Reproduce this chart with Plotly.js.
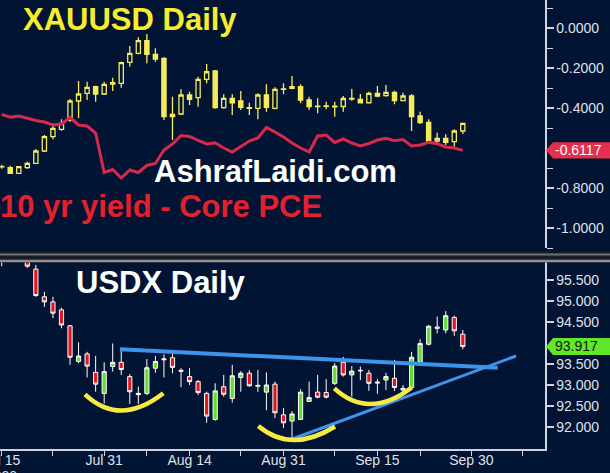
<!DOCTYPE html>
<html><head><meta charset="utf-8">
<script src="https://cdn.plot.ly/plotly-3.0.1.min.js"></script>
<style>html,body{margin:0;padding:0;background:#021434;overflow:hidden}</style>
</head><body><div id="chart" style="width:610px;height:473px"></div>
<script>
// ---------- data ----------
const dates = ['2020-07-15','2020-07-16','2020-07-17','2020-07-20','2020-07-21','2020-07-22','2020-07-23','2020-07-24','2020-07-27','2020-07-28','2020-07-29','2020-07-30','2020-07-31','2020-08-03','2020-08-04','2020-08-05','2020-08-06','2020-08-07','2020-08-10','2020-08-11','2020-08-12','2020-08-13','2020-08-14','2020-08-17','2020-08-18','2020-08-19','2020-08-20','2020-08-21','2020-08-24','2020-08-25','2020-08-26','2020-08-27','2020-08-28','2020-08-31','2020-09-01','2020-09-02','2020-09-03','2020-09-04','2020-09-07','2020-09-08','2020-09-09','2020-09-10','2020-09-11','2020-09-14','2020-09-15','2020-09-16','2020-09-17','2020-09-18','2020-09-21','2020-09-22','2020-09-23','2020-09-24','2020-09-25','2020-09-28','2020-09-29'];

const goldOpen  = [1812.0,1810.3,1799.2,1810.3,1819.0,1843.4,1871.8,1886.5,1904.9,1942.6,1957.9,1971.0,1956.5,1976.0,1977.7,2019.4,2037.3,2062.3,2035.3,2027.3,1911.5,1916.8,1954.5,1949.2,1985.7,2002.1,1929.3,1948.0,1942.6,1929.5,1928.1,1954.5,1928.1,1965.8,1971.0,1971.0,1944.6,1931.3,1932.7,1932.2,1931.7,1947.6,1946.0,1939.2,1957.9,1953.1,1959.9,1943.2,1952.5,1912.9,1900.4,1863.3,1868.6,1861.9,1883.1];
const goldHigh  = [1816.0,1814.3,1813.7,1822.2,1846.8,1875.2,1898.4,1906.3,1946.6,1982.3,1980.9,1973.0,1980.9,1988.8,2020.6,2051.7,2069.0,2075.5,2047.2,2029.3,1951.1,1965.8,1961.1,1990.8,2016.0,2004.1,1955.9,1955.9,1962.5,1939.2,1957.9,1975.7,1969.8,1977.7,1992.2,1975.7,1951.1,1948.0,1941.2,1941.2,1952.5,1966.4,1956.5,1961.1,1972.4,1974.4,1963.0,1959.1,1956.5,1921.4,1906.3,1879.7,1876.5,1886.5,1898.6];
const goldLow   = [1808.0,1797.8,1797.8,1807.7,1817.6,1841.4,1866.6,1883.7,1901.5,1908.9,1944.6,1941.2,1954.5,1962.5,1969.0,2010.7,2035.3,2017.4,2020.6,1904.9,1865.2,1914.8,1934.7,1931.3,1977.7,1927.3,1927.3,1914.8,1924.8,1914.8,1906.3,1921.4,1926.1,1955.9,1965.8,1938.1,1924.8,1918.2,1926.1,1911.5,1921.4,1943.2,1939.0,1938.0,1950.0,1951.1,1936.1,1942.0,1883.1,1897.0,1859.9,1857.3,1855.3,1852.0,1877.1];
const goldClose = [1812.5,1799.2,1812.3,1819.0,1843.4,1871.8,1888.5,1898.4,1942.6,1956.5,1969.8,1956.5,1975.7,1979.0,2018.6,2037.3,2062.3,2035.3,2025.9,1911.5,1915.8,1954.5,1946.0,1985.7,2000.7,1929.3,1948.0,1939.2,1930.1,1928.1,1954.5,1930.1,1965.8,1966.6,1967.8,1944.6,1931.3,1932.2,1931.8,1931.1,1947.6,1946.6,1939.2,1957.9,1952.5,1959.9,1943.2,1952.5,1911.5,1899.6,1863.3,1868.6,1860.7,1883.1,1898.4];

// 10 yr yield - Core PCE
const spreadVals = [-0.4325,-0.4465,-0.44,-0.4515,-0.4625,-0.47,-0.485,-0.48,-0.4475,-0.485,-0.49,-0.525,-0.7225,-0.7075,-0.75,-0.71,-0.7225,-0.6875,-0.6775,-0.61,-0.58,-0.5375,-0.5425,-0.5625,-0.58,-0.5735,-0.60,-0.62,-0.5925,-0.565,-0.55,-0.4975,-0.52,-0.545,-0.575,-0.60,-0.62,-0.54,-0.535,-0.5725,-0.555,-0.575,-0.59,-0.5775,-0.56,-0.5515,-0.5635,-0.5575,-0.59,-0.585,-0.5715,-0.5785,-0.595,-0.60,-0.6117];

const usdxOpen  = [96.10,96.00,96.30,96.05,95.76,95.10,94.98,94.79,94.41,93.56,93.74,93.30,92.80,93.44,93.54,93.20,92.77,92.80,93.40,93.60,93.65,93.35,93.20,93.08,92.80,92.18,92.96,92.68,93.18,93.28,92.97,92.83,93.02,92.29,92.14,92.18,92.61,92.83,92.82,93.04,93.54,93.24,93.35,93.28,93.07,93.12,93.16,92.88,92.94,93.54,93.97,94.38,94.31,94.61,94.21];
const usdxHigh  = [96.30,96.40,96.40,96.15,95.86,95.22,95.10,94.84,94.43,94.02,93.79,93.69,93.54,93.99,93.85,93.26,92.96,93.62,93.69,93.73,93.77,93.40,93.40,93.12,92.84,93.04,93.24,93.48,93.33,93.35,93.36,93.30,93.08,92.45,92.38,92.90,93.08,93.24,93.14,93.52,93.67,93.45,93.44,93.36,93.14,93.29,93.60,93.00,93.79,94.09,94.43,94.63,94.76,94.65,94.31];
const usdxLow   = [95.83,95.96,95.95,95.79,95.10,94.86,94.59,94.35,93.48,93.52,93.18,92.84,92.56,93.32,93.24,92.55,92.55,92.76,93.29,93.18,93.28,92.95,93.00,92.76,92.10,92.15,92.72,92.58,92.84,92.96,92.84,92.40,92.21,91.98,91.73,92.17,92.61,92.68,92.68,93.00,93.20,92.72,93.12,92.86,92.79,92.88,92.86,92.84,92.92,93.52,93.94,94.23,94.23,94.17,93.85];
const usdxClose = [96.00,96.30,96.00,95.83,95.13,94.98,94.71,94.43,93.66,93.69,93.45,93.02,93.32,93.54,93.37,92.84,92.80,93.41,93.56,93.62,93.42,93.33,93.08,92.82,92.26,92.86,92.78,93.22,93.28,92.98,92.99,93.00,92.34,92.10,92.31,92.83,92.70,92.71,92.71,93.45,93.24,93.33,93.34,93.04,93.05,93.20,92.94,92.92,93.66,93.99,94.40,94.35,94.65,94.29,93.917];

const tickDates  = ['2020-07-15','2020-07-23','2020-07-31','2020-08-07','2020-08-14','2020-08-24','2020-08-31','2020-09-08','2020-09-15','2020-09-22','2020-09-30','2020-10-08'];
const tickLabels = ['Jul 15','','Jul 31','','Aug 14','','Aug 31','','Sep 15','','Sep 30',''];
const spreadTicks = [0, -0.2, -0.4, -0.6, -0.8, -1.0];
const spreadTickShown = [true, true, true, false, true, true];
const spreadMinor = [0.1, -0.1, -0.3, -0.5, -0.7, -0.9, -1.1];
const usdxTicks = [92.0, 92.5, 93.0, 93.5, 94.0, 94.5, 95.0, 95.5];
const usdxTickShown = [true, true, true, true, false, true, true, true];

// ---------- styling ----------
const BG = '#021434';
const GOLD = '#f6ec5c';
const AX = '#cfd4dc';
const FONT = 'Liberation Sans, Arial, sans-serif';
const W = 545, H = 449;
const px = x => x / W;
const py = y => 1 - y / H;

const traces = [
  {type:'candlestick', x:dates, open:goldOpen, high:goldHigh, low:goldLow, close:goldClose,
   xaxis:'x', yaxis:'y', whiskerwidth:0, hoverinfo:'skip',
   increasing:{line:{color:GOLD, width:1.3}, fillcolor:BG},
   decreasing:{line:{color:GOLD, width:1.3}, fillcolor:GOLD}},
  {type:'scatter', mode:'lines', x:dates, y:spreadVals, xaxis:'x', yaxis:'y3',
   line:{color:'#d62a4d', width:3}, hoverinfo:'skip'},
  {type:'candlestick', x:dates, open:usdxOpen, high:usdxHigh, low:usdxLow, close:usdxClose,
   xaxis:'x', yaxis:'y2', whiskerwidth:0, hoverinfo:'skip',
   increasing:{line:{color:'#ffffff', width:1}, fillcolor:'#5fe02a'},
   decreasing:{line:{color:'#ffffff', width:1}, fillcolor:'#e2161d'}}
];

const lastSpread = spreadVals[spreadVals.length-1];
const lastUsdx = usdxClose[usdxClose.length-1];

function arc(p0, m, p2){
  const c = [(4*m[0]-p0[0]-p2[0])/2, (4*m[1]-p0[1]-p2[1])/2];
  return `M ${px(p0[0])},${py(p0[1])} Q ${px(c[0])},${py(c[1])} ${px(p2[0])},${py(p2[1])}`;
}
const YEL = '#f7ea43', BLUE = '#3f93ea';

const shapes = [
  // panel separator
  {type:'rect', xref:'paper', yref:'paper', x0:0, x1:px(610), y0:py(251.5), y1:py(262.5), fillcolor:'#181c24', line:{width:0}, layer:'above'},
  {type:'line', xref:'paper', yref:'paper', x0:0, x1:px(610), y0:py(254.5), y1:py(254.5), line:{color:'#6e7177', width:2}, layer:'above'},
  {type:'line', xref:'paper', yref:'paper', x0:0, x1:px(610), y0:py(261), y1:py(261), line:{color:'#8d9096', width:2.5}, layer:'above'},
  // last value tags
  {type:'path', xref:'paper', yref:'y3', fillcolor:'#e3304c', line:{width:0}, layer:'above',
   path:`M ${px(546)},${lastSpread} L ${px(553)},${lastSpread+0.041} L ${px(611)},${lastSpread+0.041} L ${px(611)},${lastSpread-0.041} L ${px(553)},${lastSpread-0.041} Z`},
  {type:'path', xref:'paper', yref:'y2', fillcolor:'#62e62a', line:{width:0}, layer:'above',
   path:`M ${px(546)},${lastUsdx} L ${px(553)},${lastUsdx+0.2} L ${px(611)},${lastUsdx+0.2} L ${px(611)},${lastUsdx-0.2} L ${px(553)},${lastUsdx-0.2} Z`},
  // trend lines
  {type:'line', xref:'paper', yref:'paper', x0:px(120), y0:py(349.3), x1:px(497.7), y1:py(367.7), line:{color:BLUE, width:4}, layer:'above'},
  {type:'line', xref:'paper', yref:'paper', x0:px(291), y0:py(439.5), x1:px(516), y1:py(356), line:{color:BLUE, width:3}, layer:'above'},
  // smile arcs
  {type:'path', xref:'paper', yref:'paper', path:arc([85,394.3],[122,410.5],[163.3,393.3]), line:{color:YEL, width:4.5}, layer:'above'},
  {type:'path', xref:'paper', yref:'paper', path:arc([258.3,426],[294,440],[335,426.5]), line:{color:YEL, width:4.5}, layer:'above'},
  {type:'path', xref:'paper', yref:'paper', path:arc([334.3,388.3],[371,404],[411.7,387.5]), line:{color:YEL, width:4.5}, layer:'above'}
];

const annotations = [
  {xref:'paper', yref:'paper', x:px(21), y:py(19), xanchor:'left', yanchor:'middle', showarrow:false,
   text:'<b>XAUUSD Daily</b>', font:{family:FONT, size:31, color:'#f7ec2e'}},
  {xref:'paper', yref:'paper', x:px(152), y:py(171), xanchor:'left', yanchor:'middle', showarrow:false,
   text:'<b>AshrafLaidi.com</b>', font:{family:FONT, size:31, color:'#ffffff'}},
  {xref:'paper', yref:'paper', x:px(-2), y:py(206), xanchor:'left', yanchor:'middle', showarrow:false,
   text:'<b>10 yr yield - Core PCE</b>', font:{family:FONT, size:31, color:'#e2202e'}},
  {xref:'paper', yref:'paper', x:px(74), y:py(282.5), xanchor:'left', yanchor:'middle', showarrow:false,
   text:'<b>USDX Daily</b>', font:{family:FONT, size:31, color:'#ffffff'}},
  {xref:'paper', yref:'y3', x:px(553), y:lastSpread, xanchor:'left', yanchor:'middle', showarrow:false,
   text:lastSpread.toFixed(4), font:{family:FONT, size:14, color:'#ffffff'}},
  {xref:'paper', yref:'y2', x:px(553), y:lastUsdx, xanchor:'left', yanchor:'middle', showarrow:false,
   text:lastUsdx.toFixed(3), font:{family:FONT, size:14, color:'#0b1a0b'}},
  {xref:'x', yref:'paper', x:dates[0], y:py(466), xanchor:'center', yanchor:'top', showarrow:false,
   text:'2020', font:{family:FONT, size:14, color:'#d6d9de'}}
];

const tickFont = {family:FONT, size:14, color:'#dfe2e8'};
const shownSpread = spreadTicks.filter((v,i)=>spreadTickShown[i]);
const shownUsdx = usdxTicks.filter((v,i)=>usdxTickShown[i]);

const layout = {
  width:610, height:473, margin:{l:0, r:65, t:0, b:24},
  paper_bgcolor:BG, plot_bgcolor:BG, showlegend:false, hovermode:false,
  xaxis:{type:'date', anchor:'y2', range:['2020-07-14 19:12','2020-10-12 15:00'],
    rangebreaks:[{bounds:['sat','mon']}], rangeslider:{visible:false},
    tickmode:'array', tickvals:tickDates, ticktext:tickLabels, ticks:'outside', ticklen:5, tickwidth:1,
    ticklabelstandoff:-7, ticklabeloverflow:'allow',
    tickcolor:AX, showline:true, linecolor:AX, linewidth:1.5, showgrid:false, zeroline:false, tickfont:tickFont},
  yaxis:{domain:[1-248/H, 1], anchor:'x', range:[1651, 2143], visible:false, fixedrange:true},
  yaxis3:{overlaying:'y', anchor:'x', side:'right', range:[-1.10, 0.14],
    tickmode:'array', tickvals:shownSpread, ticktext:shownSpread.map(v=>v.toFixed(4)),
    ticks:'outside', ticklen:7, tickwidth:2.5, tickcolor:AX,
    minor:{tickmode:'array', tickvals:spreadMinor, ticks:'outside', ticklen:6, tickwidth:1, tickcolor:AX},
    showline:true, linecolor:AX, linewidth:1.5, showgrid:false, zeroline:false, tickfont:tickFont},
  yaxis2:{domain:[0, 187/H], anchor:'x', side:'right', range:[91.476, 95.929],
    tickmode:'array', tickvals:shownUsdx, ticktext:shownUsdx.map(v=>v.toFixed(3)),
    ticks:'outside', ticklen:7, tickwidth:2.5, tickcolor:AX,
    showline:true, linecolor:AX, linewidth:1.5, showgrid:false, zeroline:false, tickfont:tickFont},
  shapes:shapes, annotations:annotations
};

Plotly.newPlot('chart', traces, layout, {staticPlot:true, displayModeBar:false});
</script></body></html>
